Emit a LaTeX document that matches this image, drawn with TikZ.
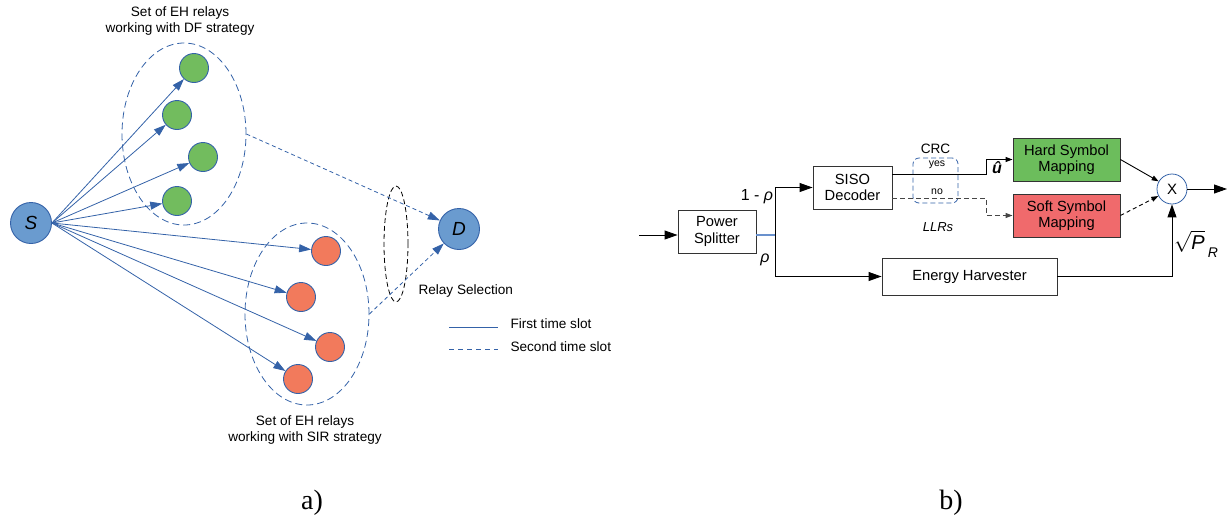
\documentclass[tikz,border=0pt]{standalone}
\usepackage{fontspec}
\setmainfont{Liberation Sans}
\newfontfamily\capfont{Liberation Serif}
\usetikzlibrary{positioning, arrows.meta, shapes.geometric}

\definecolor{nodeblue}{RGB}{106,155,207}
\definecolor{edgeblue}{RGB}{52,98,168}
\definecolor{relaygreen}{RGB}{114,188,94}
\definecolor{relayred}{RGB}{242,122,92}
\definecolor{boxgreen}{RGB}{108,189,92}
\definecolor{boxred}{RGB}{240,106,108}
\definecolor{lineblue}{RGB}{105,145,205}
\definecolor{llrgray}{RGB}{70,70,70}

\begin{document}
\begin{tikzpicture}[x=1pt, y=-1pt]
\tikzset{
>={Triangle[length=12pt,width=8pt]}, % filled heads for part a)
every node/.style={font=\fontsize{13.6}{15.5}\selectfont}, % Arial-like text
relay/.style={circle, draw=edgeblue, line width=0.9pt, inner sep=0pt, minimum size=29pt},
dfrelay/.style={relay, fill=relaygreen},
sirrelay/.style={relay, fill=relayred},
terminal/.style={circle, draw=edgeblue, fill=nodeblue, line width=0.9pt, inner sep=0pt, minimum size=41pt, font=\fontsize{19}{19}\selectfont\itshape},
relayset/.style={ellipse, draw=edgeblue, dash pattern=on 7pt off 4pt, line width=0.8pt, minimum width=124pt, minimum height=182pt},
link/.style={->, draw=edgeblue, line width=0.8pt},
block/.style={rectangle, draw=black!80, line width=0.9pt, align=center, font=\fontsize{14.7}{16.5}\selectfont},
bighead/.style={-{Triangle[length=13pt,width=9pt]}, line width=0.9pt},
smallhead/.style={-{Triangle[length=7pt,width=5pt]}, line width=0.9pt},
}
\useasboundingbox (0,0) rectangle (1232,523);

% a) relay network
\node[relayset] (dfset) at (184,134) {};
\node[relayset] (sirset) at (307,314) {};
\node[ellipse, draw, dash pattern=on 5pt off 3pt, line width=0.8pt, minimum width=24pt, minimum height=116pt] (relsel) at (396,244) {};

\node[terminal] (S) at (31,223) {S};
\node[terminal] (D) at (459,229) {D};
\node[dfrelay] (g1) at (194,68) {};
\node[dfrelay] (g2) at (177,115) {};
\node[dfrelay] (g3) at (203,157) {};
\node[dfrelay] (g4) at (177,201) {};
\node[sirrelay] (r1) at (326,251) {};
\node[sirrelay] (r2) at (301,297) {};
\node[sirrelay] (r3) at (330,347) {};
\node[sirrelay] (r4) at (298,379) {};

\node[align=center] (dftitle) at (180,21) {Set of EH relays\\working with DF strategy};
\node[align=center] (sirtitle) at (305,430) {Set of EH relays\\working with SIR strategy};
\node[anchor=west] (rstext) at (415,291) {Relay Selection};

\path (S.east) edge[link] (g1)
	(S.east) edge[link] (g2)
	(S.east) edge[link] (g3)
	(S.east) edge[link] (g4)
	(S.east) edge[link] (r1)
	(S.east) edge[link] (r2)
	(S.east) edge[link] (r3)
	(S.east) edge[link] (r4);
\path (dfset.east) edge[link, dash pattern=on 4pt off 3pt] (D)
	(sirset.east) edge[link, dash pattern=on 4pt off 3pt] (D);

% legend
\coordinate (k1) at (449,327);
\coordinate (k2) at (498,327);
\coordinate (k3) at (449,349);
\coordinate (k4) at (498,349);
\draw[edgeblue, line width=0.8pt] (k1) -- (k2);
\draw[edgeblue, line width=0.8pt, dash pattern=on 5pt off 4pt] (k3) -- (k4);
\node[anchor=west] (k1text) at (507,324) {First time slot};
\node[anchor=west] (k3text) at (507,347) {Second time slot};

% b) relay receiver
\node[block, minimum width=78pt, minimum height=43pt] (ps) at (717,231.5) {Power\\Splitter};
\node[block, minimum width=79pt, minimum height=43pt] (siso) at (852.5,187.5) {SISO\\Decoder};
\node[block, minimum width=175pt, minimum height=37pt] (eh) at (969.5,276.5) {Energy Harvester};
\node[block, fill=boxgreen, minimum width=107pt, minimum height=43pt] (hard) at (1066.5,159.5) {Hard Symbol\\Mapping};
\node[block, fill=boxred, minimum width=107pt, minimum height=43pt] (soft) at (1066.5,215.5) {Soft Symbol\\Mapping};
\node[circle, draw=edgeblue, line width=0.8pt, minimum size=30pt, inner sep=0pt, font=\fontsize{15}{15}\selectfont] (mult) at (1172,189) {X};

\node[draw=edgeblue, dash pattern=on 5pt off 3pt, rounded corners=6pt, line width=0.8pt, minimum width=45pt, minimum height=45pt] (crc) at (935.5,180.5) {};
\node[above=0pt of crc] (crctext) {CRC};
\node[font=\fontsize{10.5}{11}\selectfont] (yes) at (937,165) {yes};
\node[font=\fontsize{10.5}{11}\selectfont] (no) at (937,192) {no};
\node[font=\fontsize{13}{14}\selectfont\itshape] (llrs) at (938,227) {LLRs};

\coordinate (in) at (639,235);
\coordinate (split) at (775,235);
\coordinate (out) at (1227,189);
\draw[bighead] (in) -- (in -| ps.west);
\draw[lineblue, line width=1.1pt] (split -| ps.east) -- (split);
\draw[bighead] (split) |- (siso.west);
\draw[bighead] (split) |- (eh.west);
\draw[smallhead] ([yshift=13.5pt]siso.east) -- ++(94,0) |- (hard.west);
\draw[smallhead, llrgray, dash pattern=on 5pt off 3pt] ([yshift=-10.5pt]siso.east) -- ++(94,0) |- (soft.west);
\draw[smallhead] (hard.east) -- (mult);
\draw[smallhead, dash pattern=on 4pt off 3pt] (soft.east) -- (mult);
\draw[bighead] (mult) -- (out);
\draw[bighead] (eh.east) -| (mult);

\node[font=\fontsize{16}{16}\selectfont] (onerho) at (757,197) {1 - \textit{ρ}};
\node[font=\fontsize{16}{16}\selectfont] (rho) at (765,260) {\textit{ρ}};
\node[font=\fontsize{16}{16}\selectfont\bfseries\itshape] (uhat) at (997,168) {û};
\node[anchor=west, inner sep=0pt] (power) at (1174,244) {{\fontsize{20}{20}\selectfont$\sqrt{\mbox{\itshape P}}$}\hspace{3pt}\raisebox{-8pt}{\fontsize{14}{14}\selectfont\itshape R}};

% captions
\node[font=\capfont\fontsize{28}{28}\selectfont] (capa) at (312,503) {a)};
\node[font=\capfont\fontsize{28}{28}\selectfont] (capb) at (951,503) {b)};
\end{tikzpicture}
\end{document}
